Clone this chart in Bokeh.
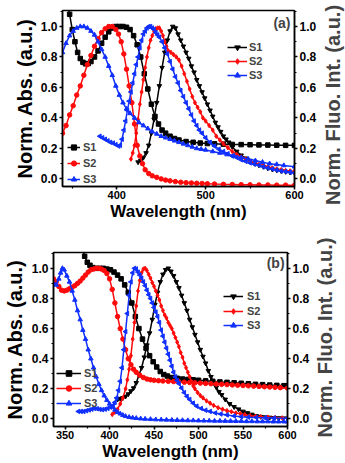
import math
from bokeh.plotting import figure
from bokeh.models import (Range1d, LinearAxis, SingleIntervalTicker, PrintfTickFormatter,
                          Legend, LegendItem, Label)
from bokeh.layouts import column, row
from bokeh.embed import file_html
from bokeh.resources import INLINE

FONT = "Liberation Sans"
BLACK = "#000000"
RED = "#ff0a0a"
BLUE = "#1030ff"
SERIES = ["S1", "S2", "S3"]

# ---------------- Panel (a) data ----------------
a_s1_abs_x = [344, 347, 350, 353, 356, 359, 362, 365, 368, 371, 375, 379, 383, 387, 391, 395, 399, 403, 407, 411, 415, 419, 423, 427, 431, 435, 439, 443, 447, 451, 455, 460, 465, 470, 478, 486, 494, 502, 510, 520, 530, 540, 550, 560, 570, 580, 590, 600]
a_s1_abs_y = [1.18, 1.08, 0.98, 0.90, 0.83, 0.79, 0.765, 0.755, 0.757, 0.77, 0.80, 0.84, 0.89, 0.93, 0.965, 0.99, 1.0, 1.0, 1.0, 0.995, 0.98, 0.94, 0.88, 0.80, 0.69, 0.59, 0.49, 0.41, 0.36, 0.32, 0.30, 0.28, 0.265, 0.255, 0.245, 0.24, 0.235, 0.232, 0.23, 0.228, 0.226, 0.225, 0.224, 0.223, 0.222, 0.221, 0.22, 0.22]
a_s2_abs_x = [339, 343, 347, 351, 355, 359, 363, 367, 371, 375, 379, 383, 387, 391, 395, 399, 402, 405, 408, 411, 414, 417, 420, 423, 426, 429, 432, 436, 440, 445, 450, 455, 460, 466, 472, 478, 484, 490, 496, 502, 510, 520, 530, 540, 550, 560, 570, 580, 590, 600]
a_s2_abs_y = [0.30, 0.35, 0.42, 0.48, 0.55, 0.61, 0.68, 0.75, 0.81, 0.87, 0.92, 0.96, 0.985, 1.0, 1.0, 0.98, 0.95, 0.90, 0.82, 0.72, 0.61, 0.50, 0.36, 0.22, 0.15, 0.10, 0.06, 0.035, 0.02, 0.01, 0.0, -0.008, -0.013, -0.018, -0.022, -0.025, -0.027, -0.029, -0.03, -0.032, -0.034, -0.036, -0.037, -0.038, -0.039, -0.04, -0.04, -0.041, -0.041, -0.042]
a_s3_abs_x = [339, 343, 347, 351, 355, 359, 363, 367, 371, 375, 379, 383, 387, 391, 395, 399, 403, 407, 411, 415, 420, 425, 430, 435, 440, 445, 450, 455, 460, 465, 470, 475, 480, 485, 490, 495, 500, 508, 516, 524, 532, 540, 548, 556, 564, 572, 580, 588, 600]
a_s3_abs_y = [0.83, 0.89, 0.94, 0.97, 0.99, 1.0, 1.0, 0.99, 0.97, 0.945, 0.90, 0.85, 0.80, 0.74, 0.68, 0.61, 0.55, 0.50, 0.46, 0.43, 0.40, 0.37, 0.35, 0.33, 0.31, 0.295, 0.28, 0.27, 0.26, 0.25, 0.24, 0.23, 0.22, 0.21, 0.20, 0.195, 0.19, 0.18, 0.17, 0.16, 0.15, 0.14, 0.13, 0.12, 0.11, 0.10, 0.095, 0.088, 0.08]
a_s1_fl_x = [424, 427, 430, 433, 436, 439, 442, 445, 448, 451, 454, 457, 460, 463, 466, 469, 472, 475, 478, 481, 484, 487, 490, 493, 496, 499, 502, 505, 508, 511, 514, 517, 520, 523, 526, 530, 535, 540, 545, 550, 555, 560, 565, 570, 575, 580, 585, 590, 595, 600]
a_s1_fl_y = [0.11, 0.12, 0.14, 0.17, 0.22, 0.30, 0.39, 0.50, 0.61, 0.73, 0.83, 0.91, 0.97, 1.0, 0.99, 0.95, 0.91, 0.87, 0.83, 0.79, 0.74, 0.70, 0.65, 0.61, 0.57, 0.53, 0.49, 0.45, 0.41, 0.37, 0.34, 0.31, 0.28, 0.26, 0.24, 0.21, 0.18, 0.155, 0.135, 0.12, 0.10, 0.09, 0.08, 0.07, 0.063, 0.057, 0.052, 0.047, 0.043, 0.04]
a_s2_fl_x = [416, 418, 420, 422, 424, 426, 428, 430, 432, 434, 436, 438, 440, 442, 444, 446, 448, 450, 452, 454, 456, 458, 461, 464, 467, 470, 473, 476, 479, 482, 485, 488, 491, 494, 497, 500, 504, 508, 512, 516, 520, 525, 530, 535, 540, 545, 550, 555, 560, 565, 570, 575, 580, 585, 590, 595, 600]
a_s2_fl_y = [0.13, 0.17, 0.22, 0.30, 0.39, 0.49, 0.57, 0.65, 0.73, 0.80, 0.86, 0.91, 0.94, 0.97, 0.985, 0.99, 0.99, 0.97, 0.94, 0.90, 0.87, 0.84, 0.83, 0.815, 0.80, 0.78, 0.74, 0.69, 0.64, 0.59, 0.54, 0.50, 0.47, 0.44, 0.40, 0.38, 0.35, 0.32, 0.28, 0.255, 0.23, 0.205, 0.18, 0.16, 0.145, 0.13, 0.115, 0.105, 0.095, 0.087, 0.08, 0.072, 0.065, 0.06, 0.055, 0.052, 0.05]
a_s3_fl_x = [381, 384, 387, 390, 393, 396, 399, 402, 404, 406, 408, 410, 412, 414, 416, 418, 420, 422, 424, 426, 428, 430, 432, 434, 436, 438, 440, 442, 444, 446, 448, 451, 454, 457, 460, 463, 466, 469, 472, 475, 478, 481, 484, 487, 490, 493, 496, 500, 505, 510, 515, 520, 525, 530, 535, 540, 545, 550, 555, 560, 565, 570, 575, 580, 585, 590, 595, 600]
a_s3_fl_y = [0.28, 0.27, 0.26, 0.25, 0.24, 0.235, 0.225, 0.215, 0.22, 0.26, 0.32, 0.38, 0.45, 0.51, 0.57, 0.63, 0.69, 0.75, 0.80, 0.86, 0.91, 0.95, 0.97, 0.99, 1.0, 1.0, 0.99, 0.98, 0.96, 0.945, 0.93, 0.90, 0.86, 0.82, 0.77, 0.72, 0.67, 0.63, 0.58, 0.54, 0.50, 0.46, 0.42, 0.38, 0.35, 0.32, 0.30, 0.27, 0.24, 0.215, 0.195, 0.18, 0.165, 0.15, 0.14, 0.125, 0.115, 0.105, 0.097, 0.09, 0.08, 0.072, 0.065, 0.058, 0.052, 0.048, 0.044, 0.04]

# ---------------- Panel (b) data ----------------
b_s1_abs_x = [369, 372, 375, 378, 381, 385, 389, 393, 397, 401, 405, 409, 413, 417, 421, 425, 429, 433, 437, 441, 445, 449, 453, 457, 461, 465, 470, 476, 482, 488, 494, 500, 508, 516, 524, 532, 540, 548, 556, 564, 572, 580, 588, 596, 600]
b_s1_abs_y = [1.15, 1.08, 1.04, 1.02, 1.005, 1.0, 1.0, 1.0, 0.995, 0.99, 0.975, 0.955, 0.93, 0.89, 0.84, 0.77, 0.68, 0.60, 0.53, 0.47, 0.42, 0.38, 0.345, 0.315, 0.295, 0.285, 0.275, 0.27, 0.265, 0.262, 0.26, 0.257, 0.253, 0.25, 0.246, 0.243, 0.24, 0.237, 0.234, 0.23, 0.228, 0.225, 0.223, 0.221, 0.22]
b_s2_abs_x = [337, 340, 343, 346, 349, 352, 355, 358, 361, 364, 367, 370, 373, 376, 379, 382, 385, 388, 391, 394, 397, 400, 403, 406, 409, 412, 415, 418, 421, 424, 427, 430, 434, 438, 442, 446, 450, 455, 460, 466, 472, 478, 484, 490, 496, 502, 508, 514, 520, 526, 532, 538, 544, 550, 556, 562, 568, 574, 580, 586, 592, 600]
b_s2_abs_y = [0.93, 0.91, 0.88, 0.855, 0.85, 0.855, 0.865, 0.875, 0.885, 0.90, 0.915, 0.935, 0.955, 0.975, 0.99, 0.995, 1.0, 1.0, 0.995, 0.985, 0.965, 0.93, 0.86, 0.77, 0.68, 0.60, 0.53, 0.46, 0.40, 0.36, 0.33, 0.31, 0.29, 0.275, 0.265, 0.26, 0.257, 0.254, 0.252, 0.25, 0.248, 0.246, 0.244, 0.242, 0.24, 0.238, 0.236, 0.234, 0.232, 0.23, 0.228, 0.226, 0.224, 0.222, 0.22, 0.218, 0.216, 0.214, 0.212, 0.21, 0.208, 0.205]
b_s3_abs_x = [337, 340, 343, 345, 347, 349, 352, 355, 358, 361, 364, 367, 370, 373, 376, 379, 382, 385, 388, 391, 394, 397, 400, 403, 406, 409, 412, 415, 418, 422, 426, 430, 435, 440, 446, 452, 458, 464, 470, 476, 482, 488, 494, 500, 506, 512, 518, 524, 530, 536, 542, 548, 554, 560, 566, 572, 578, 584, 590, 596, 600]
b_s3_abs_y = [0.90, 0.89, 0.93, 0.97, 1.0, 0.99, 0.95, 0.91, 0.85, 0.79, 0.72, 0.66, 0.59, 0.53, 0.46, 0.40, 0.34, 0.28, 0.23, 0.19, 0.155, 0.125, 0.10, 0.08, 0.06, 0.045, 0.035, 0.025, 0.018, 0.012, 0.008, 0.005, 0.002, 0.0, -0.002, -0.004, -0.005, -0.006, -0.007, -0.008, -0.009, -0.01, -0.01, -0.011, -0.012, -0.012, -0.013, -0.013, -0.014, -0.014, -0.015, -0.015, -0.016, -0.016, -0.017, -0.017, -0.017, -0.018, -0.018, -0.018, -0.018]
b_s1_fl_x = [409, 412, 415, 418, 421, 424, 427, 430, 433, 436, 439, 442, 445, 448, 451, 454, 457, 460, 463, 466, 469, 472, 475, 478, 481, 484, 487, 490, 493, 496, 499, 502, 505, 508, 511, 514, 517, 520, 523, 526, 530, 535, 540, 545, 550, 555, 560, 565, 570, 575, 580, 585, 590, 595, 600]
b_s1_fl_y = [0.13, 0.135, 0.14, 0.15, 0.165, 0.185, 0.205, 0.24, 0.29, 0.34, 0.41, 0.49, 0.57, 0.66, 0.76, 0.84, 0.91, 0.96, 0.99, 1.0, 0.98, 0.95, 0.91, 0.87, 0.82, 0.77, 0.72, 0.66, 0.61, 0.56, 0.51, 0.46, 0.415, 0.37, 0.32, 0.28, 0.24, 0.21, 0.18, 0.16, 0.13, 0.10, 0.08, 0.065, 0.05, 0.04, 0.03, 0.02, 0.015, 0.012, 0.01, 0.008, 0.006, 0.005, 0.005]
b_s2_fl_x = [403, 406, 409, 412, 415, 418, 420, 422, 424, 426, 428, 430, 432, 434, 436, 438, 440, 442, 444, 446, 448, 450, 452, 454, 456, 458, 460, 462, 464, 466, 468, 470, 472, 474, 476, 478, 480, 482, 484, 486, 488, 490, 492, 494, 496, 499, 502, 505, 509, 513, 517, 522, 527, 532, 537, 542, 547, 552, 558, 564, 570, 578, 586, 594, 600]
b_s2_fl_y = [0.03, 0.045, 0.065, 0.10, 0.14, 0.20, 0.26, 0.33, 0.42, 0.53, 0.64, 0.75, 0.85, 0.92, 0.97, 0.995, 1.0, 0.985, 0.96, 0.935, 0.905, 0.88, 0.85, 0.82, 0.79, 0.75, 0.72, 0.69, 0.67, 0.64, 0.62, 0.60, 0.57, 0.54, 0.51, 0.48, 0.44, 0.41, 0.37, 0.34, 0.31, 0.28, 0.25, 0.22, 0.20, 0.175, 0.155, 0.14, 0.12, 0.105, 0.09, 0.075, 0.065, 0.055, 0.048, 0.04, 0.035, 0.028, 0.022, 0.018, 0.015, 0.012, 0.009, 0.007, 0.005]
b_s3_fl_x = [365, 368, 371, 374, 377, 380, 383, 386, 389, 392, 395, 398, 401, 404, 406, 408, 410, 412, 414, 416, 418, 420, 422, 424, 426, 428, 430, 432, 434, 436, 438, 440, 442, 444, 446, 448, 450, 452, 454, 456, 458, 460, 462, 464, 466, 468, 470, 472, 474, 476, 478, 481, 484, 487, 490, 494, 498, 503, 508, 513, 519, 525, 532, 540, 548, 556, 565, 575, 585, 600]
b_s3_fl_y = [0.05, 0.05, 0.05, 0.055, 0.06, 0.065, 0.07, 0.068, 0.064, 0.062, 0.065, 0.07, 0.078, 0.09, 0.11, 0.14, 0.19, 0.25, 0.34, 0.46, 0.58, 0.70, 0.82, 0.91, 0.97, 1.0, 0.995, 0.975, 0.955, 0.935, 0.91, 0.885, 0.855, 0.825, 0.80, 0.77, 0.74, 0.71, 0.68, 0.64, 0.59, 0.55, 0.51, 0.47, 0.43, 0.39, 0.35, 0.31, 0.28, 0.255, 0.235, 0.205, 0.175, 0.15, 0.13, 0.105, 0.085, 0.07, 0.058, 0.05, 0.04, 0.033, 0.027, 0.02, 0.015, 0.012, 0.01, 0.008, 0.006, 0.005]

x_label = "Wavelength (nm)"
y_left_label = "Norm. Abs. (a.u.)"
y_right_label = "Norm. Fluo. Int. (a.u.)"


def style_axis(ax, label_size, tick_size, label_standoff, tick_standoff):
    ax.axis_label_text_font = FONT
    ax.axis_label_text_font_style = "bold"
    ax.axis_label_text_font_size = label_size
    ax.axis_label_text_color = "black"
    ax.axis_label_standoff = label_standoff
    ax.major_label_text_font = FONT
    ax.major_label_text_font_style = "bold"
    ax.major_label_text_font_size = tick_size
    ax.major_label_text_color = "black"
    ax.major_label_standoff = tick_standoff
    ax.axis_line_width = 1.5
    ax.axis_line_color = "black"
    ax.major_tick_line_width = 1.5
    ax.major_tick_line_color = "black"
    ax.minor_tick_line_width = 1.2
    ax.minor_tick_line_color = "black"
    ax.major_tick_out = 3
    ax.major_tick_in = 0
    ax.minor_tick_out = 2
    ax.minor_tick_in = 0


def make_panel(width, height, borders, xr, x_interval, series, abs_leg, fl_leg, tag, tag_xy,
               y_lab_standoff):
    p = figure(width=width, height=height, x_range=Range1d(*xr), y_range=Range1d(-0.05, 1.105),
               output_backend="svg", toolbar_location=None,
               min_border_left=borders[0], min_border_right=borders[1],
               min_border_top=borders[2], min_border_bottom=borders[3])
    try:
        p.frame_align = False
    except Exception:
        pass
    p.xgrid.visible = False
    p.ygrid.visible = False
    p.outline_line_color = "black"
    p.outline_line_width = 1.5
    p.outline_line_alpha = 1.0
    p.background_fill_color = "white"
    p.border_fill_color = "white"

    p.xaxis[0].ticker = SingleIntervalTicker(interval=x_interval, num_minor_ticks=2)
    p.xaxis[0].axis_label = x_label
    style_axis(p.xaxis[0], "17px", "11px", 0, 1)

    p.yaxis[0].ticker = SingleIntervalTicker(interval=0.2, num_minor_ticks=2)
    p.yaxis[0].formatter = PrintfTickFormatter(format="%.1f")
    p.yaxis[0].axis_label = y_left_label
    style_axis(p.yaxis[0], "20px", "12px", y_lab_standoff, 2)

    ra = LinearAxis(ticker=SingleIntervalTicker(interval=0.2, num_minor_ticks=2),
                    formatter=PrintfTickFormatter(format="%.1f"))
    style_axis(ra, "20px", "12px", 0, 2)
    p.add_layout(ra, "right")

    items_abs, items_fl = [], []
    for name, (ax_, ay_, col, mk_abs, fx, fy, mk_fl, ang) in zip(SERIES, series):
        l1 = p.line(ax_, ay_, line_color=col, line_width=1.5)
        s1 = p.scatter(ax_, ay_, marker=mk_abs, size=4.5, fill_color=col, line_color=col)
        l2 = p.line(fx, fy, line_color=col, line_width=1.5)
        s2 = p.scatter(fx, fy, marker=mk_fl, size=4.5, fill_color=col, line_color=col, angle=ang)
        items_abs.append(LegendItem(label=name, renderers=[l1, s1]))
        items_fl.append(LegendItem(label=name, renderers=[l2, s2]))

    # one legend per row, so each row sits exactly where the reference puts it
    for items, cfg in ((items_abs, abs_leg), (items_fl, fl_leg)):
        for item, ypos in zip(items, cfg["ys"]):
            lg = Legend(items=[item], location=(cfg["x"], ypos), glyph_width=cfg["gw"], glyph_height=14,
                        label_height=14, label_standoff=cfg["st"], spacing=0, padding=0, margin=0,
                        border_line_color=None, background_fill_alpha=0.0,
                        label_text_font=FONT, label_text_font_style="bold", label_text_font_size="11px",
                        label_text_baseline="middle")
            p.add_layout(lg, "center")

    p.add_layout(Label(x=tag_xy[0], y=tag_xy[1], text=tag, text_align="right", text_baseline="middle",
                       text_font=FONT, text_font_style="bold", text_font_size="14px"))
    return p


def title_strip(width, height, pos):
    t = figure(width=width, height=height, x_range=Range1d(0, 1), y_range=Range1d(0, 1),
               output_backend="svg", toolbar_location=None, min_border=0,
               x_axis_location=None, y_axis_location=None)
    try:
        t.frame_align = False
    except Exception:
        pass
    t.xgrid.visible = False
    t.ygrid.visible = False
    t.outline_line_color = None
    t.background_fill_color = "white"
    t.border_fill_color = "white"
    t.add_layout(Label(x=pos[0], y=pos[1], text=y_right_label, angle=math.pi / 2,
                       text_align="center", text_baseline="middle",
                       text_font=FONT, text_font_style="bold", text_font_size="20px"))
    return t


series_a = [
    (a_s1_abs_x, a_s1_abs_y, BLACK, "square", a_s1_fl_x, a_s1_fl_y, "inverted_triangle", 0.0),
    (a_s2_abs_x, a_s2_abs_y, RED, "circle", a_s2_fl_x, a_s2_fl_y, "diamond", 0.0),
    (a_s3_abs_x, a_s3_abs_y, BLUE, "triangle", a_s3_fl_x, a_s3_fl_y, "triangle", 1.5708),
]
series_b = [
    (b_s1_abs_x, b_s1_abs_y, BLACK, "square", b_s1_fl_x, b_s1_fl_y, "inverted_triangle", 0.0),
    (b_s2_abs_x, b_s2_abs_y, RED, "circle", b_s2_fl_x, b_s2_fl_y, "diamond", 0.0),
    (b_s3_abs_x, b_s3_abs_y, BLUE, "triangle", b_s3_fl_x, b_s3_fl_y, "triangle", 1.5708),
]

pa = make_panel(319, 232, (62, 22, 10, 46), (339, 600), 100, series_a,
                dict(x=5, ys=(32, 16, 0), gw=13, st=3), dict(x=165, ys=(132, 118, 104), gw=20, st=2),
                "(a)", (595.5, 1.02), 2)
pb = make_panel(312, 231, (49, 22, 20, 37), (337, 600), 50, series_b,
                dict(x=3, ys=(46, 31, 16), gw=25, st=3), dict(x=170, ys=(123, 108, 94), gw=20, st=4),
                "(b)", (596.7, 1.032), 3)
ta = title_strip(26, 232, (0.52, 0.55))
tb = title_strip(33, 231, (0.38, 0.545))

layout = column(row(pa, ta, spacing=0), row(pb, tb, spacing=0), spacing=0)
open("out.html", "w").write(file_html(layout, INLINE))
